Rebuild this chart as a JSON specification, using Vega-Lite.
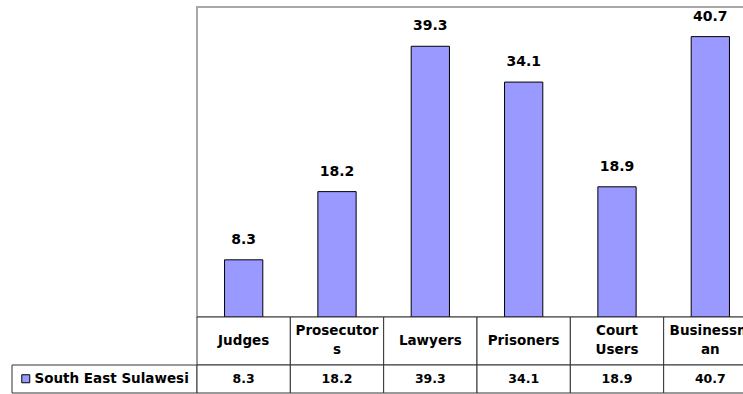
{
  "$schema": "https://vega.github.io/schema/vega-lite/v6.json",
  "padding": {"left": 11, "top": 6, "right": 0, "bottom": 0},
  "background": "white",
  "bounds": "flush",
  "spacing": 0,
  "columns": 2,
  "resolve": {"legend": {"fill": "independent"}},
  "config": {
    "view": {"stroke": null},
    "text": {"font": "DejaVu Sans", "fontWeight": "bold", "color": "#000"}
  },
  "datasets": {
    "main": [
      {"category": "Judges", "header": "Judges", "value": 8.3},
      {"category": "Prosecutors", "header": "Prosecutor\ns", "value": 18.2},
      {"category": "Lawyers", "header": "Lawyers", "value": 39.3},
      {"category": "Prisoners", "header": "Prisoners", "value": 34.1},
      {"category": "Court Users", "header": "Court\nUsers", "value": 18.9},
      {"category": "Businessman", "header": "Businessm\nan", "value": 40.7}
    ],
    "legend": [{"series": "South East Sulawesi"}]
  },
  "concat": [
    {"width": 185, "height": 310, "data": {"values": []}, "mark": "point"},
    {
      "width": 560,
      "height": 310,
      "data": {"name": "main"},
      "view": {"stroke": "#a8a8a8", "strokeWidth": 2},
      "encoding": {
        "x": {"field": "category", "type": "nominal", "sort": null, "scale": {"paddingInner": 0, "paddingOuter": 0}, "axis": null}
      },
      "layer": [
        {
          "mark": {"type": "bar", "width": {"band": 0.41}, "fill": "#9999ff", "stroke": "#000", "strokeWidth": 1},
          "encoding": {"y": {"field": "value", "type": "quantitative", "scale": {"domain": [0, 45]}, "axis": null}}
        },
        {
          "mark": {"type": "text", "baseline": "alphabetic", "dy": -16, "fontSize": 14},
          "encoding": {
            "y": {"field": "value", "type": "quantitative"},
            "text": {"field": "value", "type": "quantitative", "format": ".1f"}
          }
        }
      ]
    },
    {"width": 185, "height": 48, "data": {"values": []}, "mark": "point"},
    {
      "width": 560,
      "height": 48,
      "data": {"name": "main"},
      "encoding": {
        "x": {"field": "category", "type": "nominal", "sort": null, "scale": {"paddingInner": 0, "paddingOuter": 0}, "axis": null}
      },
      "layer": [
        {"mark": {"type": "rect", "fill": "white", "stroke": "#333", "strokeWidth": 1}},
        {
          "transform": [{"filter": "indexof(datum.header, '\\n') < 0"}],
          "mark": {"type": "text", "fontSize": 13.5, "baseline": "middle"},
          "encoding": {"text": {"field": "header", "type": "nominal"}}
        },
        {
          "transform": [{"filter": "indexof(datum.header, '\\n') >= 0"}],
          "mark": {"type": "text", "fontSize": 13.5, "lineHeight": 19, "lineBreak": "\n", "baseline": "middle", "dy": -10},
          "encoding": {"text": {"field": "header", "type": "nominal"}}
        }
      ]
    },
    {
      "width": 185,
      "height": 28,
      "data": {"name": "legend"},
      "layer": [
        {"mark": {"type": "rect", "fill": "white", "stroke": "#333", "strokeWidth": 1}},
        {
          "mark": {"type": "square", "filled": true, "opacity": 0},
          "encoding": {
            "fill": {
              "field": "series",
              "type": "nominal",
              "scale": {"range": ["#9999ff"]},
              "legend": {
                "title": null,
                "orient": "top-left",
                "offset": 7,
                "padding": 0,
                "symbolType": "square",
                "symbolSize": 64,
                "symbolOpacity": 1,
                "symbolStrokeColor": "#000",
                "symbolStrokeWidth": 1,
                "labelFont": "DejaVu Sans",
                "labelFontWeight": "bold",
                "labelFontSize": 13.5,
                "labelColor": "#000",
                "labelOffset": 2,
                "labelLimit": 300
              }
            }
          }
        }
      ]
    },
    {
      "width": 560,
      "height": 28,
      "data": {"name": "main"},
      "encoding": {
        "x": {"field": "category", "type": "nominal", "sort": null, "scale": {"paddingInner": 0, "paddingOuter": 0}, "axis": null}
      },
      "layer": [
        {"mark": {"type": "rect", "fill": "white", "stroke": "#333", "strokeWidth": 1}},
        {
          "mark": {"type": "text", "fontSize": 12.5, "baseline": "middle"},
          "encoding": {"text": {"field": "value", "type": "quantitative", "format": ".1f"}}
        }
      ]
    }
  ]
}
